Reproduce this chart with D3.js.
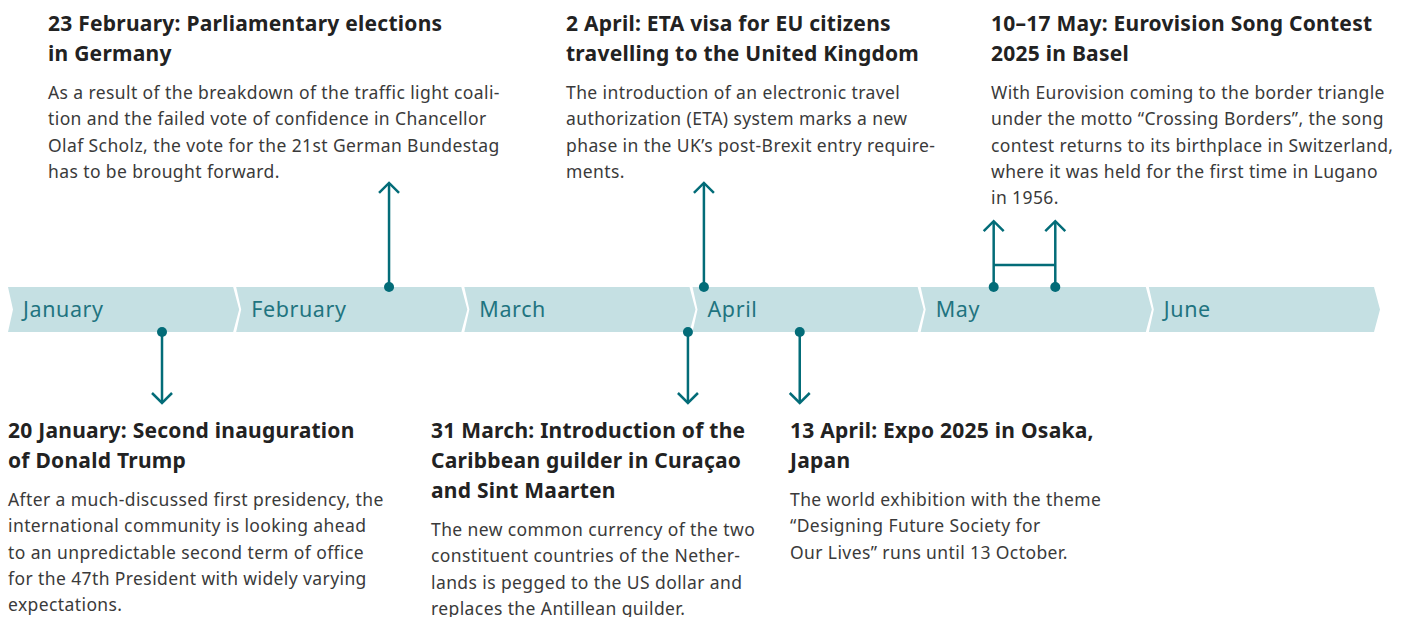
<!DOCTYPE html>
<html lang="en">
<head>
    <meta charset="UTF-8">
    <title>Timeline 2025</title>
    <script src="https://d3js.org/d3.v7.min.js"></script>
    <style>
        body{
            margin: 0;
            background: #fff;
        }
        .month{
            font-family: "Noto Sans", sans-serif;
            font-size: 21.5px;
            letter-spacing: 0.6px;
            fill: #1f7480;
        }
        .title{
            font-family: "Noto Sans", sans-serif;
            font-size: 21px;
            letter-spacing: 0.25px;
            font-weight: 700;
            fill: #222;
        }
        .body{
            font-family: "Noto Sans", sans-serif;
            font-size: 17.5px;
            letter-spacing: 0.4px;
            fill: #3a3a3a;
        }
    </style>
</head>
<body>
    <script>
        var w = 1404;
        var h = 617;
        var teal = "#036c78";
        var band = "#c5e0e3";

        // months shown on the band
        var months = ["January","February","March","April","May","June"];

        // events: position on the band in months (0 = start of January)
        var eventStart = [0.675, 1.67, 2.98, 3.05, 3.47, 4.32];
        var eventEnd   = [0.675, 1.67, 2.98, 3.05, 3.47, 4.59];
        var eventSide  = ["below","above","below","above","below","above"];
        var eventTitle = [
            ["20 January: Second inauguration","of Donald Trump"],
            ["23 February: Parliamentary elections","in Germany"],
            ["31 March: Introduction of the","Caribbean guilder in Curaçao","and Sint Maarten"],
            ["2 April: ETA visa for EU citizens","travelling to the United Kingdom"],
            ["13 April: Expo 2025 in Osaka,","Japan"],
            ["10–17 May: Eurovision Song Contest","2025 in Basel"]
        ];
        var eventText = [
            ["After a much-discussed first presidency, the","international community is looking ahead","to an unpredictable second term of office","for the 47th President with widely varying","expectations."],
            ["As a result of the breakdown of the traffic light coali-","tion and the failed vote of confidence in Chancellor","Olaf Scholz, the vote for the 21st German Bundestag","has to be brought forward."],
            ["The new common currency of the two","constituent countries of the Nether-","lands is pegged to the US dollar and","replaces the Antillean guilder."],
            ["The introduction of an electronic travel","authorization (ETA) system marks a new","phase in the UK’s post-Brexit entry require-","ments."],
            ["The world exhibition with the theme","“Designing Future Society for","Our Lives” runs until 13 October."],
            ["With Eurovision coming to the border triangle","under the motto “Crossing Borders”, the song","contest returns to its birthplace in Switzerland,","where it was held for the first time in Lugano","in 1956."]
        ];

        // layout
        var blockX = [8, 48, 431, 566, 790, 991];
        var bandTop = 287, bandBot = 332, bandMid = (bandTop + bandBot) / 2;
        var titleLH = 30, bodyLH = 26.3, bodyGap = 38;
        var topTitleY = 31, bottomTitleY = 438;
        var bottomArrowY = 403;

        var xScale = d3.scaleLinear()
            .domain([0, months.length])
            .range([8, 1377]);

        var svg = d3.select("body")
            .append("svg")
            .attr("width", w)
            .attr("height", h);

        // band segments (chevrons)
        var seg = svg.append("g").selectAll("g")
            .data(months)
            .enter()
            .append("g");

        seg.append("path")
            .attr("fill", band)
            .attr("d", function(d, i){
                var a = xScale(i), b = xScale(i + 1);
                return "M" + a + "," + bandTop +
                    "L" + (b - 3) + "," + bandTop +
                    "L" + (b + 3) + "," + bandMid +
                    "L" + (b - 3) + "," + bandBot +
                    "L" + a + "," + bandBot +
                    "L" + (a + 5) + "," + bandMid + "Z";
            });

        seg.append("text")
            .attr("class", "month")
            .attr("x", function(d, i){ return xScale(i) + 15; })
            .attr("y", bandMid + 7.5)
            .text(function(d){ return d; });

        // text blocks
        var blocks = svg.append("g").selectAll("g")
            .data(eventTitle)
            .enter()
            .append("g");

        var blockBottom = [];
        blocks.each(function(lines, i){
            var g = d3.select(this);
            var y0 = eventSide[i] === "above" ? topTitleY : bottomTitleY;
            var t = g.append("text").attr("class", "title");
            lines.forEach(function(l, j){
                t.append("tspan").attr("x", blockX[i]).attr("y", y0 + j * titleLH).text(l);
            });
            var by = y0 + (lines.length - 1) * titleLH + bodyGap;
            var b = g.append("text").attr("class", "body");
            eventText[i].forEach(function(l, j){
                b.append("tspan").attr("x", blockX[i]).attr("y", by + j * bodyLH).text(l);
            });
            blockBottom[i] = by + (eventText[i].length - 1) * bodyLH;
        });

        // markers and arrows
        var marks = svg.append("g")
            .attr("stroke", teal)
            .attr("fill", "none")
            .attr("stroke-width", 2.5);

        function arrow(x, y0, y1){
            var dir = y1 < y0 ? 1 : -1;
            marks.append("line")
                .attr("x1", x).attr("x2", x)
                .attr("y1", y0).attr("y2", y1);
            marks.append("path")
                .attr("d", "M" + (x - 10) + "," + (y1 + dir * 10) + "L" + x + "," + y1 + "L" + (x + 10) + "," + (y1 + dir * 10));
            marks.append("circle")
                .attr("cx", x).attr("cy", y0).attr("r", 5)
                .attr("fill", teal).attr("stroke", "none");
        }

        eventStart.forEach(function(s, i){
            var above = eventSide[i] === "above";
            var y0 = above ? bandTop : bandBot;
            var y1 = above ? blockBottom[i] + (eventEnd[i] > s ? 17 : 5) : bottomArrowY;
            arrow(xScale(s), y0, y1);
            if (eventEnd[i] > s) {
                arrow(xScale(eventEnd[i]), y0, y1);
                marks.append("line")
                    .attr("x1", xScale(s)).attr("x2", xScale(eventEnd[i]))
                    .attr("y1", bandTop - 22).attr("y2", bandTop - 22);
            }
        });
    </script>
</body>
</html>
